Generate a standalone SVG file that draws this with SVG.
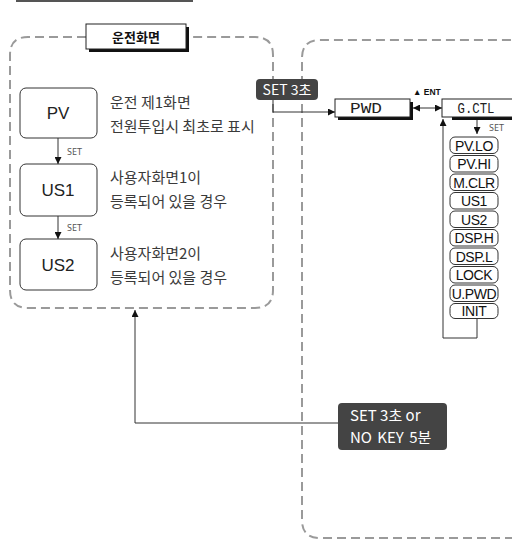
<svg xmlns="http://www.w3.org/2000/svg" width="512" height="541" viewBox="0 0 512 541">
<defs>
<style>
.dash{fill:none;stroke:#9a9a9a;stroke-width:2;stroke-dasharray:9 5}
.node{fill:#fff;stroke:#333;stroke-width:1}
.lbl{font-family:"Liberation Sans",Arial,sans-serif;font-size:17px;fill:#222;text-anchor:middle}
.kr{font-family:"Noto Sans CJK KR","Noto Sans",sans-serif;font-size:15px;fill:#3a3a3a}
.small{font-family:"Noto Sans","Noto Sans CJK KR",sans-serif;font-size:9px;fill:#555}
.item{fill:#fff;stroke:#333;stroke-width:1}
.itxt{font-family:"Liberation Sans",Arial,sans-serif;font-size:14px;fill:#111;text-anchor:middle;letter-spacing:-0.4px}
.mono{font-family:"Liberation Mono","DejaVu Sans Mono",monospace;font-size:14px;fill:#222;text-anchor:middle}
.tag{fill:#444;stroke:none}
.tagt{font-family:"Noto Sans CJK KR","Noto Sans",sans-serif;fill:#fff}
.conn{fill:none;stroke:#333;stroke-width:1}
</style>
<marker id="ah" viewBox="0 0 10 10" refX="10" refY="5" markerWidth="7" markerHeight="7" orient="auto-start-reverse" markerUnits="userSpaceOnUse">
<path d="M0,0 L10,5 L0,10 z" fill="#111"/>
</marker>
</defs>

<!-- cut-off top box -->
<g id="topbox"><line x1="16" y1="1" x2="193" y2="1" stroke="#555" stroke-width="2"/></g>

<!-- dashed groups -->
<g id="group-left">
<path class="dash" d="M86,37 H28 Q10,37 10,55 V290 Q10,308 28,308 H255 Q273,308 273,290 V55 Q273,37 255,37 H186"/>
</g>
<g id="group-right">
<path class="dash" d="M514,538 H320 Q302,538 302,520 V58 Q302,40 320,40 H514"/>
</g>

<!-- title -->
<g id="title">
<rect x="89" y="27" width="100" height="25" fill="#111"/>
<rect x="86" y="24" width="100" height="25" fill="#fff" stroke="#222" stroke-width="1"/>
<text x="136" y="42" font-family="Noto Sans CJK KR,sans-serif" font-size="13" font-weight="bold" fill="#111" text-anchor="middle">운전화면</text>
</g>

<!-- left nodes -->
<g id="node-pv">
<rect class="node" x="20" y="88" width="77" height="50" rx="6"/>
<text class="lbl" x="58" y="119">PV</text>
<text class="kr" x="110" y="108">운전 제1화면</text>
<text class="kr" x="110" y="132">전원투입시 최초로 표시</text>
</g>
<g id="node-us1">
<rect class="node" x="20" y="164" width="77" height="52" rx="6"/>
<text class="lbl" x="58" y="196">US1</text>
<text class="kr" x="110" y="183">사용자화면1이</text>
<text class="kr" x="110" y="207">등록되어 있을 경우</text>
</g>
<g id="node-us2">
<rect class="node" x="20" y="239" width="77" height="51" rx="6"/>
<text class="lbl" x="58" y="271">US2</text>
<text class="kr" x="110" y="259">사용자화면2이</text>
<text class="kr" x="110" y="283">등록되어 있을 경우</text>
</g>

<!-- PWD / G.CTL -->
<g id="node-pwd">
<rect x="338" y="102" width="75" height="18" fill="#111"/>
<rect x="335" y="99" width="75" height="18" fill="#fff" stroke="#222"/>
<text class="mono" x="366" y="113" textLength="32" lengthAdjust="spacingAndGlyphs">PWD</text>
</g>
<g id="node-gctl">
<rect x="452" y="102" width="62" height="18" fill="#111"/>
<rect x="442" y="99" width="72" height="18" fill="#fff" stroke="#222"/>
<text class="mono" x="476" y="113" textLength="37" lengthAdjust="spacingAndGlyphs">G.CTL</text>
</g>

<!-- list items -->
<g id="node-pvlo"><rect class="item" x="450" y="137" width="48" height="16.5" rx="5"/><text class="itxt" x="474" y="150.5">PV.LO</text></g>
<g id="node-pvhi"><rect class="item" x="450" y="155.5" width="48" height="16.5" rx="5"/><text class="itxt" x="474" y="169">PV.HI</text></g>
<g id="node-mclr"><rect class="item" x="450" y="174" width="48" height="16.5" rx="5"/><text class="itxt" x="474" y="187.5">M.CLR</text></g>
<g id="node-lus1"><rect class="item" x="450" y="192.5" width="48" height="16.5" rx="5"/><text class="itxt" x="474" y="206">US1</text></g>
<g id="node-lus2"><rect class="item" x="450" y="211" width="48" height="16.5" rx="5"/><text class="itxt" x="474" y="224.5">US2</text></g>
<g id="node-dsph"><rect class="item" x="450" y="229.5" width="48" height="16.5" rx="5"/><text class="itxt" x="474" y="243">DSP.H</text></g>
<g id="node-dspl"><rect class="item" x="450" y="248" width="48" height="16.5" rx="5"/><text class="itxt" x="474" y="261.5">DSP.L</text></g>
<g id="node-lock"><rect class="item" x="450" y="266.5" width="48" height="16.5" rx="5"/><text class="itxt" x="474" y="280">LOCK</text></g>
<g id="node-upwd"><rect class="item" x="450" y="285" width="48" height="16.5" rx="5"/><text class="itxt" x="474" y="298.5">U.PWD</text></g>
<g id="node-init"><rect class="item" x="450" y="303.5" width="48" height="15" rx="5"/><text class="itxt" x="474" y="316" letter-spacing="-1">INIT</text></g>

<!-- connectors -->
<g id="connectors">
<line class="conn" x1="58" y1="138" x2="58" y2="164" marker-end="url(#ah)"/>
<line class="conn" x1="58" y1="216" x2="58" y2="239" marker-end="url(#ah)"/>
<polyline class="conn" points="273,100 273,112 335,112" marker-end="url(#ah)"/>
<line class="conn" x1="413" y1="108" x2="442" y2="108" marker-start="url(#ah)" marker-end="url(#ah)"/>
<line class="conn" x1="477" y1="120" x2="477" y2="134" marker-end="url(#ah)"/>
<polyline class="conn" points="477,318.5 477,338 443,338 443,119" marker-end="url(#ah)"/>
<polyline class="conn" points="338,423 135,423 135,310" marker-end="url(#ah)"/>
<text class="small" x="67" y="155">SET</text>
<text class="small" x="67" y="231">SET</text>
<text class="small" x="489" y="131">SET</text>
<text x="413" y="95" font-family="Liberation Sans,Arial,sans-serif" font-size="8.5" font-weight="bold" fill="#111">▲ ENT</text>
</g>

<!-- tags -->
<g id="tag-set3">
<rect class="tag" x="256" y="79" width="62" height="21" rx="4"/>
<text class="tagt" x="287" y="95" font-size="14" text-anchor="middle">SET 3초</text>
</g>
<g id="tag-return">
<rect class="tag" x="338" y="403" width="109" height="47" rx="4"/>
<text class="tagt" x="350" y="421" font-size="15">SET 3초 or</text>
<text class="tagt" x="350" y="443" font-size="15" word-spacing="2">NO KEY 5분</text>
</g>
</svg>
